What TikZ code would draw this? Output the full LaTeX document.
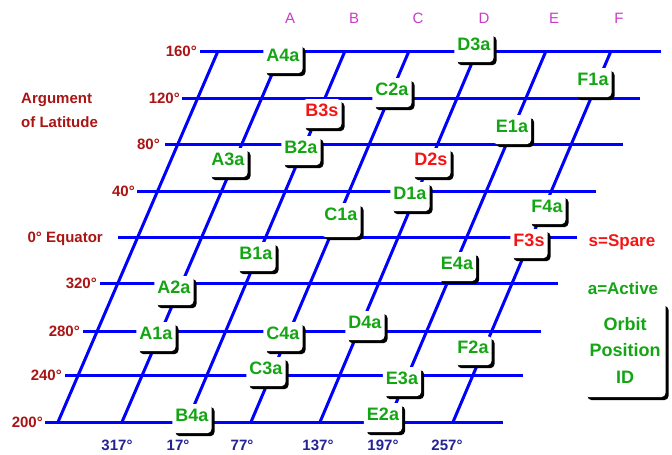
\documentclass[tikz,border=0pt]{standalone}
\usepackage{fontspec}
\setmainfont{Liberation Sans}
\usetikzlibrary{shadows}
\definecolor{gridblue}{RGB}{0,0,255}
\definecolor{actgreen}{RGB}{20,165,20}
\definecolor{sparered}{RGB}{245,20,20}
\definecolor{darkred}{RGB}{170,20,20}
\definecolor{navyblue}{RGB}{35,35,150}
\definecolor{plum}{RGB}{200,60,200}
\begin{document}
\begin{tikzpicture}[x=1pt,y=-1pt,
  gridline/.style={gridblue, line width=3pt},
  idbox/.style={fill=white, rounded corners=4pt, inner xsep=3pt, inner ysep=0pt,
    text height=17.4pt, text depth=11.6pt, anchor=base,
    font=\fontsize{18}{18}\selectfont\bfseries,
    drop shadow={shadow xshift=3pt, shadow yshift=-3pt, fill=black, opacity=1}},
  active/.style={idbox, text=actgreen},
  spare/.style={idbox, text=sparered},
  lat/.style={text=darkred, font=\fontsize{15}{15}\selectfont\bfseries,
    inner sep=0pt, text height=10.7pt, text depth=0pt},
  raan/.style={text=navyblue, font=\fontsize{15}{15}\selectfont\bfseries,
    inner sep=0pt, text height=10.7pt, text depth=0pt},
  plane/.style={text=plum, font=\fontsize{15}{15}\selectfont,
    inner sep=0pt, text height=10.7pt, text depth=0pt},
  legendtext/.style={font=\fontsize{17}{17}\selectfont\bfseries,
    inner sep=0pt, text height=12.2pt, text depth=0pt},
  legendbox/.style={fill=white, rounded corners=4pt, text=actgreen, align=center,
    font=\fontsize{18}{26.5}\selectfont\bfseries, minimum width=81pt, minimum height=94pt,
    inner sep=0pt,
    drop shadow={shadow xshift=3pt, shadow yshift=-3pt, fill=black, opacity=1}}
]
\useasboundingbox (0,0) rectangle (672,455);

% horizontal lines (argument of latitude)
\foreach \i/\y/\xa/\xb in {0/51/200/661, 1/98/182/640, 2/144/165/623, 3/191/137/596,
  4/237/118/577, 5/283/100/558, 6/331/83/541, 7/375/65/523, 8/422/45/503} {
  \coordinate (hs\i) at (\xa,\y);
  \coordinate (he\i) at (\xb,\y);
  \draw[gridline] (hs\i) -- (he\i);
}
% slanted lines (orbit planes)
\foreach \k/\xa/\xb in {0/58/218, 1/122/282, 2/187/345, 3/251/409, 4/320/477, 5/388/546, 6/453/611} {
  \coordinate (pb\k) at (\xa,422);
  \coordinate (pt\k) at (\xb,51);
  \draw[gridline] (pb\k) -- (pt\k);
}

% plane letters
\node[plane] (pa) at (290,18) {A};
\node[plane] (pbl) at (354,18) {B};
\node[plane] (pc) at (418,18) {C};
\node[plane] (pd) at (484,18) {D};
\node[plane] (pe) at (554,18) {E};
\node[plane] (pf) at (619,18) {F};

% latitude labels
\node[lat, anchor=east] (l160) at (197,51) {160°};
\node[lat, anchor=east] (l120) at (180,98) {120°};
\node[lat, anchor=east] (l80) at (160,144) {80°};
\node[lat, anchor=east] (l40) at (135,191) {40°};
\node[lat, anchor=east] (l0) at (103,237) {0° Equator};
\node[lat, anchor=east] (l320) at (97,283) {320°};
\node[lat, anchor=east] (l280) at (80,331) {280°};
\node[lat, anchor=east] (l240) at (62,375) {240°};
\node[lat, anchor=east] (l200) at (43,422) {200°};
\node[lat, anchor=west] (arg1) at (21,98) {Argument};
\node[lat, anchor=west] (arg2) at (21,122) {of Latitude};

% RAAN labels
\node[raan] (r1) at (117,445) {317°};
\node[raan] (r2) at (178,445) {17°};
\node[raan] (r3) at (242,445) {77°};
\node[raan] (r4) at (318,445) {137°};
\node[raan] (r5) at (383,445) {197°};
\node[raan] (r6) at (447,445) {257°};

% satellite slots
\node[active] (a4a) at (283,61.5) {A4a};
\node[active] (d3a) at (474,50.5) {D3a};
\node[active] (f1a) at (593,85.5) {F1a};
\node[active] (c2a) at (392,95.5) {C2a};
\node[spare]  (b3s) at (322,116.5) {B3s};
\node[active] (e1a) at (512,132.5) {E1a};
\node[active] (b2a) at (301,153.5) {B2a};
\node[active] (a3a) at (228,165.5) {A3a};
\node[spare]  (d2s) at (431,165.5) {D2s};
\node[active] (d1a) at (410,199.5) {D1a};
\node[active] (f4a) at (547,212.5) {F4a};
\node[active, text depth=16.5pt] (c1a) at (341,220.5) {C1a};
\node[spare]  (f3s) at (529,246.5) {F3s};
\node[active] (b1a) at (256,259.5) {B1a};
\node[active] (e4a) at (457,269.5) {E4a};
\node[active] (a2a) at (174,293.5) {A2a};
\node[active] (d4a) at (365,328.5) {D4a};
\node[active] (a1a) at (156,339.5) {A1a};
\node[active] (c4a) at (283,339.5) {C4a};
\node[active] (f2a) at (473,353.5) {F2a};
\node[active] (c3a) at (266,374.5) {C3a};
\node[active] (e3a) at (402,384.5) {E3a};
\node[active] (e2a) at (383,420.5) {E2a};
\node[active] (b4a) at (192,421.5) {B4a};

% legend
\node[legendtext, text=sparered] (spare) at (622,240) {s=Spare};
\node[legendtext, text=actgreen] (activeleg) at (623,288) {a=Active};
\node[legendbox] (orbitid) at (625,350) {Orbit\\Position\\ID};
\end{tikzpicture}
\end{document}
